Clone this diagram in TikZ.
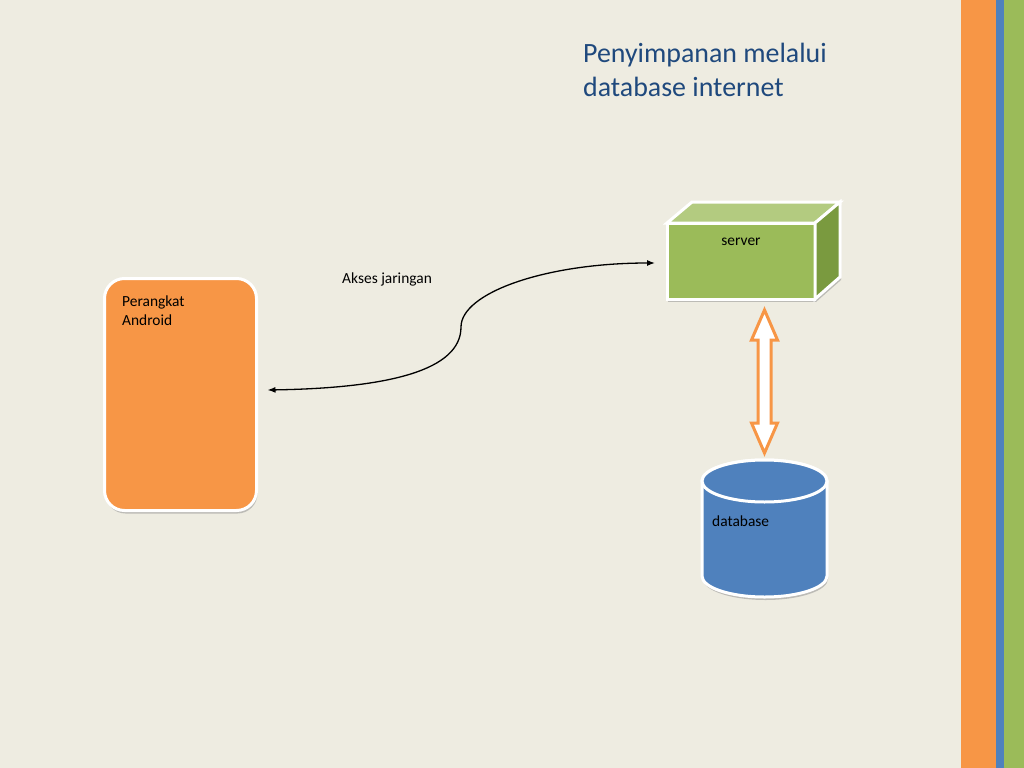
\documentclass[tikz,border=0pt]{standalone}
\usepackage{fontspec}
\setmainfont{Carlito}
\usepackage{xcolor}
\usetikzlibrary{positioning,calc,arrows.meta,shadows}
\definecolor{bg}{HTML}{EEECE1}
\definecolor{orng}{HTML}{F79646}
\definecolor{blu}{HTML}{4F81BD}
\definecolor{grn}{HTML}{9BBB59}
\definecolor{grntop}{HTML}{B3CB80}
\definecolor{grnside}{HTML}{7A9A3F}
\definecolor{ttl}{HTML}{1F497D}

\begin{document}
\begin{tikzpicture}[x=1bp,y=-1bp,
		txt/.style={font=\fontsize{15.5}{18.5}\selectfont, inner sep=0pt},
		box/.style={draw=white, line width=3bp, outer sep=0pt},
		shd/.style={drop shadow={shadow xshift=1bp, shadow yshift=-3bp, fill=black!45, opacity=.5}},
		link/.style={line width=1.3bp, >={Latex[length=8bp,width=6bp]}, <->},
		fatarrow/.style={draw=orng, line width=3bp, fill=white}]
		\useasboundingbox (0,0) rectangle (1024,768);
		\fill[bg] (0,0) rectangle (1024,768);
		% side stripes
		\fill[orng] (961,0) rectangle (996,768);
		\fill[blu] (996,0) rectangle (1004,768);
		\fill[grn] (1004,0) rectangle (1024,768);
		\node[anchor=base west, align=left, inner sep=0pt, text=ttl, font=\fontsize{28}{35}\selectfont] (title) at (583,97) {Penyimpanan melalui\\database internet};
		\node[box, shd, fill=orng, rounded corners=20bp, minimum width=152bp, minimum height=232bp,
			label={[txt, anchor=north west, align=left, xshift=17.5bp, yshift=-17.5bp]north west:Perangkat\\Android}] (android) at (180.5,394.5) {};
		\node[box, shd, fill=grn, minimum width=148bp, minimum height=76bp,
			label={[txt, anchor=base, yshift=-22bp]north:server}] (server) at (741,261) {};
		\draw[box, fill=grntop] (server.north west) -- ++(25,-21) -- ($(server.north east)+(25,-21)$) -- (server.north east) -- cycle;
		\draw[box, shd, fill=grnside] (server.north east) -- ++(25,-21) -- ++(0,75) -- (server.south east) -- cycle;
		\node[outer sep=0pt, minimum width=125bp, minimum height=137bp] (db) at (764.5,528.5) {};
		\draw[box, shd, fill=blu] ($(db.north west)+(0,21)$) -- ($(db.south west)+(0,-21)$)
			arc[start angle=180, end angle=0, x radius=62.5, y radius=21] -- ($(db.north east)+(0,21)$)
			arc[start angle=0, end angle=-180, x radius=62.5, y radius=21] -- cycle;
		\draw[box, fill=blu] ($(db.north)+(0,21)$) ellipse [x radius=62.5, y radius=21];
		\node[txt, anchor=base west] (dblbl) at ($(db.north west)+(10,66)$) {database};
		\node[txt, anchor=base west] (akses) at (342,283) {Akses jaringan};
		\draw[link] ([xshift=11bp,yshift=4.5bp]android.east) .. controls (390,388) and (461,370) .. (461,327)
			.. controls (461,293) and (545,263) .. ([xshift=-12bp,yshift=-2bp]server.west);
		\draw[fatarrow] ($(server.south -| db.north)+(0,11)$) -- ++(13,30) -- ++(-6.5,0) -- ++(0,83) -- ++(6.5,0)
			-- ++(-13,30) -- ++(-13,-30) -- ++(6.5,0) -- ++(0,-83) -- ++(-6.5,0) -- cycle;
	\end{tikzpicture}
\end{document}
